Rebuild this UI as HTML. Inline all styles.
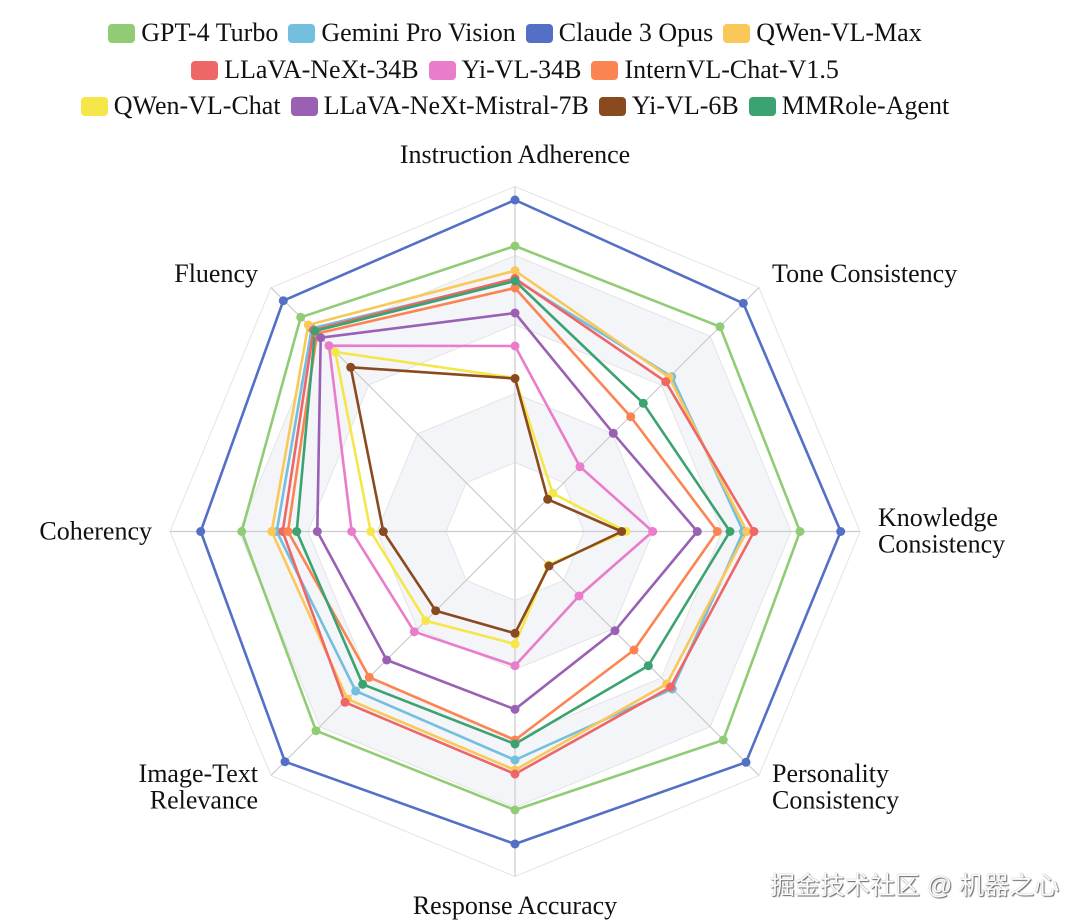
<!DOCTYPE html>
<html>
<head>
<meta charset="utf-8">
<style>
  html,body{margin:0;padding:0;background:#fff;}
  body{width:1080px;height:923px;position:relative;overflow:hidden;font-family:"Liberation Serif",serif;}
  .row{position:absolute;left:0;width:1030px;display:flex;justify-content:center;align-items:center;height:30px;font-size:26px;color:#111;white-space:nowrap;}
  .it{display:flex;align-items:center;margin:0 5px;}
  .ic{width:27px;height:19px;border-radius:4px;margin-right:6px;}
  .wm{position:absolute;left:770px;top:866px;font-family:"Liberation Sans","Noto Sans CJK SC",sans-serif;font-size:25px;color:#fbfbfb;text-shadow:1px 1px 1px #666,0 0 1px #888;white-space:nowrap;}
</style>
</head>
<body>
<div class="row" style="top:18px">
  <div class="it"><div class="ic" style="background:#91cc75"></div>GPT-4 Turbo</div>
  <div class="it"><div class="ic" style="background:#73c0de"></div>Gemini Pro Vision</div>
  <div class="it"><div class="ic" style="background:#5470c6"></div>Claude 3 Opus</div>
  <div class="it"><div class="ic" style="background:#fac858"></div>QWen-VL-Max</div>
</div>
<div class="row" style="top:55px">
  <div class="it"><div class="ic" style="background:#ee6666"></div>LLaVA-NeXt-34B</div>
  <div class="it"><div class="ic" style="background:#ea7ccc"></div>Yi-VL-34B</div>
  <div class="it"><div class="ic" style="background:#fc8452"></div>InternVL-Chat-V1.5</div>
</div>
<div class="row" style="top:91px">
  <div class="it"><div class="ic" style="background:#f5e64a"></div>QWen-VL-Chat</div>
  <div class="it"><div class="ic" style="background:#9a60b4"></div>LLaVA-NeXt-Mistral-7B</div>
  <div class="it"><div class="ic" style="background:#8a4a20"></div>Yi-VL-6B</div>
  <div class="it"><div class="ic" style="background:#3ba272"></div>MMRole-Agent</div>
</div>

<svg width="1080" height="923" style="position:absolute;left:0;top:0" xmlns="http://www.w3.org/2000/svg">
  <!-- shaded bands -->
  <path fill="#f3f5f9" fill-rule="evenodd" d="M515,255.5 L710.2,336.3 L791,531.5 L710.2,726.7 L515,807.5 L319.8,726.7 L239,531.5 L319.8,336.3 Z M515,324.5 L661.4,385.1 L722,531.5 L661.4,677.9 L515,738.5 L368.6,677.9 L308,531.5 L368.6,385.1 Z"/>
  <path fill="#f3f5f9" fill-rule="evenodd" d="M515,393.5 L612.6,433.9 L653,531.5 L612.6,629.1 L515,669.5 L417.4,629.1 L377,531.5 L417.4,433.9 Z M515,462.5 L563.8,482.7 L584,531.5 L563.8,580.3 L515,600.5 L466.2,580.3 L446,531.5 L466.2,482.7 Z"/>
  <!-- rings -->
  <g fill="none" stroke="#e4e4e4" stroke-width="1">
    <polygon points="515,186.5 759,287.6 860,531.5 759,775.5 515,876.5 271,775.5 170,531.5 271,287.6"/>
    <polygon points="515,255.5 710.2,336.3 791,531.5 710.2,726.7 515,807.5 319.8,726.7 239,531.5 319.8,336.3"/>
    <polygon points="515,324.5 661.4,385.1 722,531.5 661.4,677.9 515,738.5 368.6,677.9 308,531.5 368.6,385.1"/>
    <polygon points="515,393.5 612.6,433.9 653,531.5 612.6,629.1 515,669.5 417.4,629.1 377,531.5 417.4,433.9"/>
    <polygon points="515,462.5 563.8,482.7 584,531.5 563.8,580.3 515,600.5 466.2,580.3 446,531.5 466.2,482.7"/>
  </g>
  <!-- axes -->
  <g stroke="#cccccc" stroke-width="1.2">
    <line x1="515" y1="531.5" x2="515" y2="186.5"/>
    <line x1="515" y1="531.5" x2="759" y2="287.6"/>
    <line x1="515" y1="531.5" x2="860" y2="531.5"/>
    <line x1="515" y1="531.5" x2="759" y2="775.5"/>
    <line x1="515" y1="531.5" x2="515" y2="876.5"/>
    <line x1="515" y1="531.5" x2="271" y2="775.5"/>
    <line x1="515" y1="531.5" x2="170" y2="531.5"/>
    <line x1="515" y1="531.5" x2="271" y2="287.6"/>
  </g>

  <!-- series -->
  <g fill="none" stroke-width="2.6" stroke-linejoin="round">
    <polygon stroke="#91cc75" points="515,246 720,326.7 800,531.5 723.3,740 515,810 316,730.7 241.7,531.5 300.7,317.3"/>
    <polygon stroke="#73c0de" points="515,279.5 671.7,376.7 743.3,531.5 672.3,689 515,760 355.7,691 276.7,531.5 311.7,328.3"/>
    <polygon stroke="#5470c6" points="515,200 743.3,303.3 840.7,531.5 746,762.3 515,844 285,761.7 200.7,531.5 283.3,300.7"/>
    <polygon stroke="#fac858" points="515,270.7 669.2,377.3 746.7,531.5 666.7,684 515,770 347.4,699.1 271.7,531.5 308.3,325"/>
    <polygon stroke="#ee6666" points="515,278.5 665.7,381.7 754,531.5 670.6,687.1 515,774 345,702.3 282.7,531.5 313.5,330"/>
    <polygon stroke="#ea7ccc" points="515,346 580,466.7 652.7,531.5 579,596 515,665.7 414.3,631.7 351.7,531.5 329,345.7"/>
    <polygon stroke="#fc8452" points="515,288 630.7,416.7 717.3,531.5 634,650 515,740 369.3,677.3 288,531.5 317,333.5"/>
    <polygon stroke="#f5e64a" points="515,378 552.7,493.3 626,531.5 548.3,565 515,644 425.7,620.7 370.7,531.5 335.3,352"/>
    <polygon stroke="#9a60b4" points="515,313 613.3,433.3 697.3,531.5 615,630.7 515,709.3 386.7,660 317.3,531.5 320.7,337.7"/>
    <polygon stroke="#8a4a20" points="515,378.5 547.7,499.3 621.7,531.5 549,566 515,633.3 435.7,610.7 383.3,531.5 350.7,367.3"/>
    <polygon stroke="#3ba272" points="515,281 643.3,403.3 730,531.5 648.3,665.7 515,744 362.7,684.3 296.7,531.5 315,331"/>
  </g>

  <!-- markers -->
  <g fill="#91cc75"><circle cx="515" cy="246" r="4.5"/><circle cx="720" cy="326.7" r="4.5"/><circle cx="800" cy="531.5" r="4.5"/><circle cx="723.3" cy="740" r="4.5"/><circle cx="515" cy="810" r="4.5"/><circle cx="316" cy="730.7" r="4.5"/><circle cx="241.7" cy="531.5" r="4.5"/><circle cx="300.7" cy="317.3" r="4.5"/></g>
  <g fill="#73c0de"><circle cx="515" cy="279.5" r="4.5"/><circle cx="671.7" cy="376.7" r="4.5"/><circle cx="743.3" cy="531.5" r="4.5"/><circle cx="672.3" cy="689" r="4.5"/><circle cx="515" cy="760" r="4.5"/><circle cx="355.7" cy="691" r="4.5"/><circle cx="276.7" cy="531.5" r="4.5"/><circle cx="311.7" cy="328.3" r="4.5"/></g>
  <g fill="#5470c6"><circle cx="515" cy="200" r="4.5"/><circle cx="743.3" cy="303.3" r="4.5"/><circle cx="840.7" cy="531.5" r="4.5"/><circle cx="746" cy="762.3" r="4.5"/><circle cx="515" cy="844" r="4.5"/><circle cx="285" cy="761.7" r="4.5"/><circle cx="200.7" cy="531.5" r="4.5"/><circle cx="283.3" cy="300.7" r="4.5"/></g>
  <g fill="#fac858"><circle cx="515" cy="270.7" r="4.5"/><circle cx="669.2" cy="377.3" r="4.5"/><circle cx="746.7" cy="531.5" r="4.5"/><circle cx="666.7" cy="684" r="4.5"/><circle cx="515" cy="770" r="4.5"/><circle cx="347.4" cy="699.1" r="4.5"/><circle cx="271.7" cy="531.5" r="4.5"/><circle cx="308.3" cy="325" r="4.5"/></g>
  <g fill="#ee6666"><circle cx="515" cy="278.5" r="4.5"/><circle cx="665.7" cy="381.7" r="4.5"/><circle cx="754" cy="531.5" r="4.5"/><circle cx="670.6" cy="687.1" r="4.5"/><circle cx="515" cy="774" r="4.5"/><circle cx="345" cy="702.3" r="4.5"/><circle cx="282.7" cy="531.5" r="4.5"/><circle cx="313.5" cy="330" r="4.5"/></g>
  <g fill="#ea7ccc"><circle cx="515" cy="346" r="4.5"/><circle cx="580" cy="466.7" r="4.5"/><circle cx="652.7" cy="531.5" r="4.5"/><circle cx="579" cy="596" r="4.5"/><circle cx="515" cy="665.7" r="4.5"/><circle cx="414.3" cy="631.7" r="4.5"/><circle cx="351.7" cy="531.5" r="4.5"/><circle cx="329" cy="345.7" r="4.5"/></g>
  <g fill="#fc8452"><circle cx="515" cy="288" r="4.5"/><circle cx="630.7" cy="416.7" r="4.5"/><circle cx="717.3" cy="531.5" r="4.5"/><circle cx="634" cy="650" r="4.5"/><circle cx="515" cy="740" r="4.5"/><circle cx="369.3" cy="677.3" r="4.5"/><circle cx="288" cy="531.5" r="4.5"/><circle cx="317" cy="333.5" r="4.5"/></g>
  <g fill="#f5e64a"><circle cx="515" cy="378" r="4.5"/><circle cx="552.7" cy="493.3" r="4.5"/><circle cx="626" cy="531.5" r="4.5"/><circle cx="548.3" cy="565" r="4.5"/><circle cx="515" cy="644" r="4.5"/><circle cx="425.7" cy="620.7" r="4.5"/><circle cx="370.7" cy="531.5" r="4.5"/><circle cx="335.3" cy="352" r="4.5"/></g>
  <g fill="#9a60b4"><circle cx="515" cy="313" r="4.5"/><circle cx="613.3" cy="433.3" r="4.5"/><circle cx="697.3" cy="531.5" r="4.5"/><circle cx="615" cy="630.7" r="4.5"/><circle cx="515" cy="709.3" r="4.5"/><circle cx="386.7" cy="660" r="4.5"/><circle cx="317.3" cy="531.5" r="4.5"/><circle cx="320.7" cy="337.7" r="4.5"/></g>
  <g fill="#8a4a20"><circle cx="515" cy="378.5" r="4.5"/><circle cx="547.7" cy="499.3" r="4.5"/><circle cx="621.7" cy="531.5" r="4.5"/><circle cx="549" cy="566" r="4.5"/><circle cx="515" cy="633.3" r="4.5"/><circle cx="435.7" cy="610.7" r="4.5"/><circle cx="383.3" cy="531.5" r="4.5"/><circle cx="350.7" cy="367.3" r="4.5"/></g>
  <g fill="#3ba272"><circle cx="515" cy="281" r="4.5"/><circle cx="643.3" cy="403.3" r="4.5"/><circle cx="730" cy="531.5" r="4.5"/><circle cx="648.3" cy="665.7" r="4.5"/><circle cx="515" cy="744" r="4.5"/><circle cx="362.7" cy="684.3" r="4.5"/><circle cx="296.7" cy="531.5" r="4.5"/><circle cx="315" cy="331" r="4.5"/></g>

  <!-- axis labels -->
  <g font-family="Liberation Serif, serif" font-size="26" fill="#111">
    <text x="515" y="163" text-anchor="middle">Instruction Adherence</text>
    <text x="772" y="282">Tone Consistency</text>
    <text x="878" y="526">Knowledge</text>
    <text x="878" y="552.5">Consistency</text>
    <text x="772" y="782">Personality</text>
    <text x="772" y="808.5">Consistency</text>
    <text x="515" y="914" text-anchor="middle">Response Accuracy</text>
    <text x="258" y="782" text-anchor="end">Image-Text</text>
    <text x="258" y="808.5" text-anchor="end">Relevance</text>
    <text x="152" y="539.5" text-anchor="end">Coherency</text>
    <text x="258" y="282" text-anchor="end">Fluency</text>
  </g>
</svg>

<div class="wm">掘金技术社区 @ 机器之心</div>
</body>
</html>
